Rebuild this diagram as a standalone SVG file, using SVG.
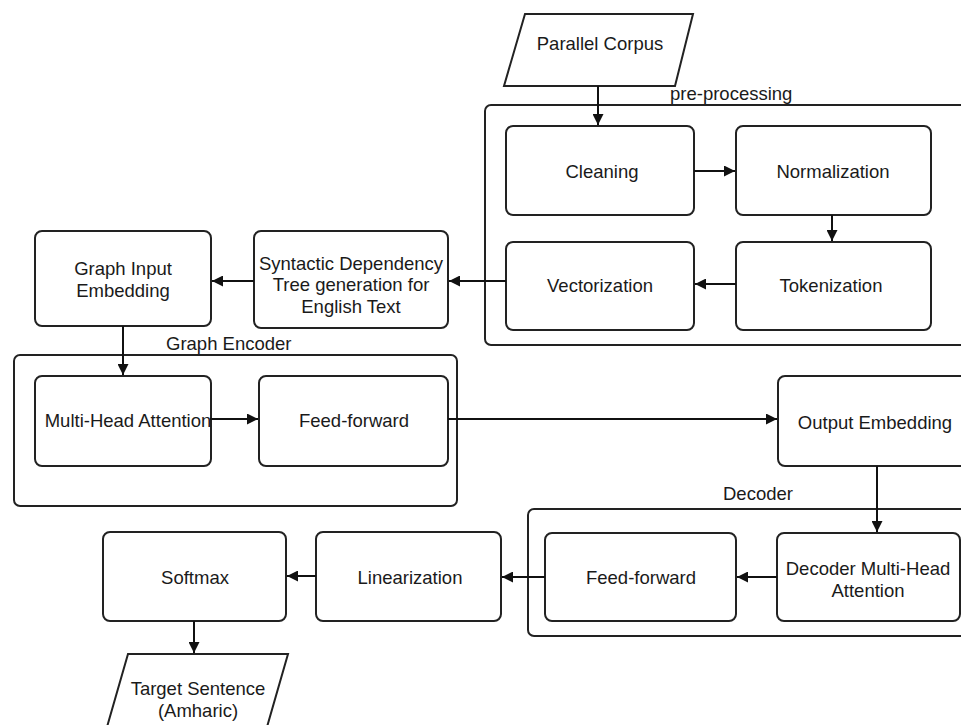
<svg xmlns="http://www.w3.org/2000/svg" width="961" height="725" viewBox="0 0 961 725">
<defs>
<marker id="ah" viewBox="0 0 10 10" refX="10" refY="5" markerWidth="11" markerHeight="11" markerUnits="userSpaceOnUse" orient="auto">
<path d="M0,0 L10,5 L0,10 z" fill="#111"/>
</marker>
<style>
.box{fill:#fff;stroke:#222;stroke-width:2}
.cont{fill:none;stroke:#222;stroke-width:2}
.t{font-family:"Liberation Sans",Arial,Helvetica,sans-serif;font-size:18.5px;fill:#1a1a1a;text-anchor:middle;dominant-baseline:central}
.lab{font-family:"Liberation Sans",Arial,Helvetica,sans-serif;font-size:18.5px;fill:#1a1a1a;dominant-baseline:central}
.c{fill:none;stroke:#111;stroke-width:2;marker-end:url(#ah)}
</style>
</defs>
<rect width="961" height="725" fill="#fff"/>

<g id="preprocessing">
<rect class="cont" x="485" y="105" width="490" height="240" rx="6"/>
<text class="lab" x="670" y="93">pre-processing</text>
</g>
<g id="graph-encoder">
<rect class="cont" x="14" y="355" width="443" height="151" rx="6"/>
<text class="lab" x="166" y="343">Graph Encoder</text>
</g>
<g id="decoder">
<rect class="cont" x="528" y="509" width="447" height="127" rx="6"/>
<text class="lab" x="723" y="493">Decoder</text>
</g>

<g id="parallel-corpus">
<polygon class="box" points="525,14 693,14 675,86 504,86"/>
<text class="t" x="600" y="43">Parallel Corpus</text>
</g>
<g id="cleaning">
<rect class="box" x="506" y="126" width="188" height="89" rx="7"/>
<text class="t" x="602" y="171">Cleaning</text>
</g>
<g id="normalization">
<rect class="box" x="736" y="126" width="195" height="89" rx="7"/>
<text class="t" x="833" y="171">Normalization</text>
</g>
<g id="vectorization">
<rect class="box" x="506" y="242" width="188" height="88" rx="7"/>
<text class="t" x="600" y="285">Vectorization</text>
</g>
<g id="tokenization">
<rect class="box" x="736" y="242" width="195" height="88" rx="7"/>
<text class="t" x="831" y="285">Tokenization</text>
</g>
<g id="syntactic">
<rect class="box" x="254" y="231" width="194" height="97" rx="7"/>
<text class="t" x="351" y="263">Syntactic Dependency</text>
<text class="t" x="351" y="284.5">Tree generation for</text>
<text class="t" x="351" y="306">English Text</text>
</g>
<g id="graph-input-embedding">
<rect class="box" x="35" y="231" width="176" height="95" rx="7"/>
<text class="t" x="123" y="268">Graph Input</text>
<text class="t" x="123" y="290">Embedding</text>
</g>
<g id="multi-head-attention">
<rect class="box" x="35" y="376" width="176" height="90" rx="7"/>
<text class="t" x="128" y="420">Multi-Head Attention</text>
</g>
<g id="feed-forward-enc">
<rect class="box" x="259" y="376" width="189" height="90" rx="7"/>
<text class="t" x="354" y="420">Feed-forward</text>
</g>
<g id="output-embedding">
<rect class="box" x="778" y="376" width="200" height="90" rx="7"/>
<text class="t" x="875" y="422">Output Embedding</text>
</g>
<g id="decoder-mha">
<rect class="box" x="777" y="533" width="183" height="88" rx="7"/>
<text class="t" x="868" y="568">Decoder Multi-Head</text>
<text class="t" x="868" y="590">Attention</text>
</g>
<g id="feed-forward-dec">
<rect class="box" x="545" y="533" width="191" height="88" rx="7"/>
<text class="t" x="641" y="577">Feed-forward</text>
</g>
<g id="linearization">
<rect class="box" x="316" y="532" width="185" height="89" rx="7"/>
<text class="t" x="410" y="577">Linearization</text>
</g>
<g id="softmax">
<rect class="box" x="103" y="532" width="183" height="89" rx="7"/>
<text class="t" x="195" y="577">Softmax</text>
</g>
<g id="target-sentence">
<polygon class="box" points="128,654 288,654 267,727 107,727"/>
<text class="t" x="198" y="688">Target Sentence</text>
<text class="t" x="198" y="710">(Amharic)</text>
</g>

<g id="connectors">
<path class="c" d="M598,86 L598,125"/>
<path class="c" d="M694,171 L735,171"/>
<path class="c" d="M832,215 L832,241"/>
<path class="c" d="M736,284 L695,284"/>
<path class="c" d="M506,281 L449,281"/>
<path class="c" d="M254,281 L212,281"/>
<path class="c" d="M123,326 L123,375"/>
<path class="c" d="M210,419 L258,419"/>
<path class="c" d="M448,419 L777,419"/>
<path class="c" d="M877,466 L877,532"/>
<path class="c" d="M777,577 L737,577"/>
<path class="c" d="M545,577 L502,577"/>
<path class="c" d="M316,576 L287,576"/>
<path class="c" d="M194,621 L194,653"/>
</g>
</svg>
